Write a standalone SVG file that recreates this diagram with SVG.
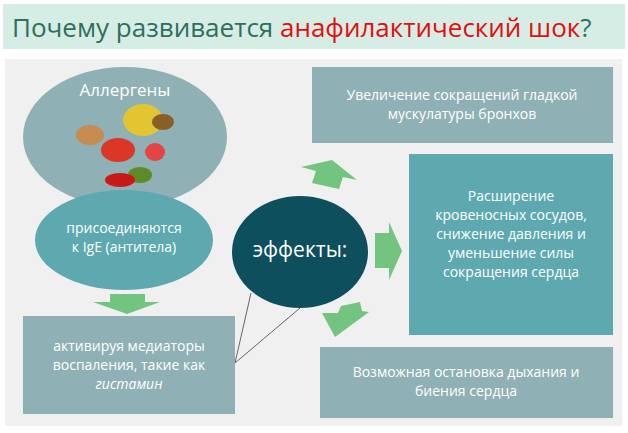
<svg xmlns="http://www.w3.org/2000/svg" width="628" height="433" viewBox="0 0 628 433">
<style>
text{font-family:"Segoe UI","Open Sans","Noto Sans",sans-serif;fill:#fff;text-anchor:middle}
.t{font-size:14px}
.box{fill:#8fb1b5}
.arr{fill:#72c47e}
</style>
<rect width="628" height="433" fill="#fff"/>
<g id="title"><rect x="3" y="4" width="622" height="45" fill="#d6ede5"/>
<text x="12" y="37" style="font-size:26px;text-anchor:start;fill:#2f6f5e">Почему развивается <tspan fill="#e01010">анафилактический шок</tspan>?</text></g>
<rect x="5" y="59" width="617" height="367" fill="#f0f0f0"/>
<g id="connectors">
<polyline points="251,293 235,363 300,308" fill="none" stroke="#666" stroke-width="1"/>
<polygon class="arr" points="110,294 145,294 145,302 160,302 127,314 93,302 110,302"/>
<polygon class="arr" points="375,233 389,233 389,222 402,251 389,280 389,268 375,268"/>
<polygon class="arr" points="332,160 357,180 343,177 339,189 312,183 316,171 301,167"/>
<polygon class="arr" points="341,306 360,302 362,311 369,312 335,337 322,313 338,313"/>
</g>
<g id="allergens"><ellipse cx="125" cy="137" rx="102" ry="70" fill="#8fb1b5"/>
<text x="125" y="96" style="font-size:17px">Аллергены</text>
<g opacity="0.95"><ellipse cx="143" cy="120" rx="20" ry="16" fill="#e8c62a"/><ellipse cx="90" cy="135" rx="14" ry="10" fill="#c88a4a"/><ellipse cx="163" cy="122" rx="11" ry="8" fill="#8a5a20"/><ellipse cx="118" cy="150" rx="17" ry="12" fill="#e03020"/><ellipse cx="155" cy="152" rx="10" ry="9" fill="#e84040"/><ellipse cx="140" cy="175" rx="12" ry="8" fill="#5a8a20"/><ellipse cx="120" cy="180" rx="15" ry="7" fill="#cc1010"/></g></g>
<g id="ige"><ellipse cx="124" cy="240" rx="89" ry="50" fill="#5ea9b0"/>
<text class="t" x="124" y="233">присоединяются</text><text class="t" x="124" y="252">к IgE (антитела)</text></g>
<g id="effects"><ellipse cx="300" cy="252" rx="68" ry="56" fill="#0d4f5c"/>
<text x="300" y="257" style="font-size:21px">эффекты:</text></g>
<g id="mediators"><rect class="box" x="23" y="316" width="212" height="98"/>
<text class="t" x="129" y="351">активируя медиаторы</text><text class="t" x="129" y="370">воспаления, такие как</text><text class="t" x="129" y="389" font-style="italic">гистамин</text></g>
<g id="bronchi"><rect class="box" x="312" y="67" width="301" height="76"/>
<text class="t" x="462" y="100">Увеличение сокращений гладкой</text><text class="t" x="462" y="119">мускулатуры бронхов</text></g>
<g id="vessels"><rect x="409" y="154" width="204" height="181" fill="#5ea9b0"/>
<text class="t" x="511" y="201">Расширение</text><text class="t" x="511" y="220">кровеносных сосудов,</text><text class="t" x="511" y="239">снижение давления и</text><text class="t" x="511" y="258">уменьшение силы</text><text class="t" x="511" y="277">сокращения сердца</text></g>
<g id="arrest"><rect class="box" x="320" y="347" width="293" height="71"/>
<text class="t" x="466" y="377">Возможная остановка дыхания и</text><text class="t" x="466" y="396">биения сердца</text></g>
</svg>
